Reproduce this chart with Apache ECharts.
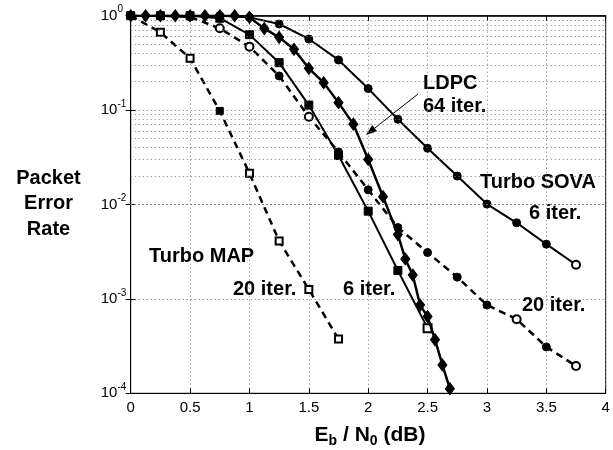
<!DOCTYPE html>
<html><head><meta charset="utf-8">
<script src="https://cdn.jsdelivr.net/npm/echarts@6/dist/echarts.min.js"></script>
<style>html,body{margin:0;padding:0;background:#fff}#c{width:613px;height:450px}</style>
</head><body><div id="c"></div>
<script>
// ---------- data ----------
const xRange = [0, 4];
const xStep = 0.5;
const yRange = [1e-4, 1];
const minorMultipliers = [2, 3, 4, 5, 6, 7, 8, 9];

const mapIter20X = [0, 0.25, 0.5, 0.75, 1.0, 1.25, 1.5, 1.75];
const mapIter20Y = [1.0, 0.667, 0.354, 0.098, 0.0214, 0.0041, 0.00126, 0.000376];

const mapIter6X = [0, 0.25, 0.5, 0.75, 1.0, 1.25, 1.5, 1.75, 2.0, 2.25, 2.5];
const mapIter6Y = [1.0, 1.0, 1.0, 0.94, 0.63, 0.318, 0.113, 0.033, 0.0085, 0.0020, 0.00049];

const ldpcX = [0, 0.125, 0.25, 0.375, 0.5, 0.625, 0.75, 0.875, 1.0, 1.125, 1.25, 1.375, 1.5, 1.625, 1.75, 1.875, 2.0, 2.125, 2.25, 2.3125, 2.375, 2.4375, 2.5, 2.5625, 2.625, 2.6875];
const ldpcY = [1.0, 1.0, 1.0, 1.0, 1.0, 1.0, 1.0, 1.0, 0.96, 0.73, 0.59, 0.44, 0.277, 0.195, 0.12, 0.071, 0.030, 0.0121, 0.0048, 0.00265, 0.00179, 0.00086, 0.00065, 0.00037, 0.0002, 0.000112];

const sova6X = [0, 0.25, 0.5, 0.75, 1.0, 1.25, 1.5, 1.75, 2.0, 2.25, 2.5, 2.75, 3.0, 3.25, 3.5, 3.75];
const sova6Y = [1.0, 1.0, 1.0, 1.0, 0.96, 0.817, 0.567, 0.34, 0.169, 0.080, 0.0394, 0.020, 0.0101, 0.0064, 0.0038, 0.0023];

const sova20X = [0, 0.25, 0.5, 0.75, 1.0, 1.25, 1.5, 1.75, 2.0, 2.25, 2.5, 2.75, 3.0, 3.25, 3.5, 3.75];
const sova20Y = [1.0, 1.0, 0.97, 0.735, 0.47, 0.23, 0.085, 0.036, 0.0143, 0.0057, 0.0031, 0.0017, 0.00086, 0.00061, 0.00031, 0.000195];

// which markers are drawn hollow (style only)
const hollow = {
  map20: [1, 2, 4, 5, 6, 7],
  map6: [10],
  ldpc: [],
  sova6: [15],
  sova20: [3, 4, 6, 13, 15]
};

// ---------- chart ----------
const FONT = '"Liberation Sans", Arial, Helvetica, sans-serif';
const chart = echarts.init(document.getElementById('c'), null, {renderer: 'canvas'});

function mk(name, xs, ys, shape, open, size, width, dash, z) {
  const Cap = shape.charAt(0).toUpperCase() + shape.slice(1);
  return {
    name: name, type: 'line', z: z,
    data: xs.map((x, i) => [x, ys[i]]),
    symbol: (v, p) => open.indexOf(p.dataIndex) >= 0 ? 'empty' + Cap : shape,
    symbolSize: size,
    showAllSymbol: true,
    lineStyle: {color: '#000', width: width, type: dash},
    itemStyle: {color: '#000', borderColor: '#000', borderWidth: 1},
    emphasis: {disabled: true},
    animation: false,
    silent: true
  };
}

const minorLines = [];
for (let e = -4; e < 0; e++) {
  minorMultipliers.forEach(m => minorLines.push({yAxis: m * Math.pow(10, e)}));
}

const series = [
  mk('Turbo MAP 20 iter.', mapIter20X, mapIter20Y, 'rect', hollow.map20, 7, 2.5, [7, 5], 3),
  mk('Turbo MAP 6 iter.', mapIter6X, mapIter6Y, 'rect', hollow.map6, 8, 2, 'solid', 4),
  mk('Turbo SOVA 20 iter.', sova20X, sova20Y, 'circle', hollow.sova20, 8, 2.5, [7, 5], 3),
  mk('Turbo SOVA 6 iter.', sova6X, sova6Y, 'circle', hollow.sova6, 8, 2, 'solid', 4),
  mk('LDPC 64 iter.', ldpcX, ldpcY, 'diamond', hollow.ldpc, [9, 12], 2.5, 'solid', 5)
];
series[0].markLine = {
  silent: true, symbol: ['none', 'none'], animation: false,
  label: {show: false},
  lineStyle: {color: '#777', type: [1, 3], width: 1},
  emphasis: {disabled: true},
  data: minorLines
};

const gridSplit = {show: true, lineStyle: {color: '#777', type: [1, 3], width: 1}};
const boldText = (t, x, y, align) => ({
  type: 'text', silent: true,
  style: {text: t, x: x, y: y, fill: '#000', font: 'bold 20px ' + FONT,
          align: align || 'left', textAlign: align || 'left',
          verticalAlign: 'middle', textVerticalAlign: 'middle'}
});

// arrow geometry for "LDPC 64 iter." pointer
const arrowFrom = [418, 94], arrowTip = [366, 135];
const dx = arrowTip[0] - arrowFrom[0], dy = arrowTip[1] - arrowFrom[1];
const len = Math.sqrt(dx * dx + dy * dy), ux = dx / len, uy = dy / len;
const headL = 11, headW = 4;
const base = [arrowTip[0] - ux * headL, arrowTip[1] - uy * headL];

const option = {
  backgroundColor: '#fff',
  animation: false,
  grid: {left: 130.7, right: 7.3, top: 15.7, bottom: 56.7, show: true, borderColor: '#000', borderWidth: 1},
  xAxis: [{
    type: 'value', min: xRange[0], max: xRange[1], interval: xStep,
    axisLine: {show: true, onZero: false, lineStyle: {color: '#000', width: 1}},
    axisTick: {show: true, inside: true, length: 5, lineStyle: {color: '#000'}},
    axisLabel: {color: '#000', fontSize: 15, fontFamily: FONT, margin: 7},
    splitLine: gridSplit
  }, {
    type: 'value', position: 'top', min: xRange[0], max: xRange[1], interval: xStep,
    axisLine: {show: true, lineStyle: {color: '#000', width: 1.5}},
    axisTick: {show: true, inside: true, length: 5, lineStyle: {color: '#000'}},
    axisLabel: {show: false}, splitLine: {show: false}
  }],
  yAxis: [{
    type: 'log', logBase: 10, min: yRange[0], max: yRange[1],
    axisLine: {show: true, onZero: false, lineStyle: {color: '#000', width: 1}},
    axisTick: {show: true, inside: true, length: 5, lineStyle: {color: '#000'}},
    axisLabel: {
      color: '#000', fontFamily: FONT, margin: 30, align: 'left',
      formatter: v => '{b|10}{s|' + Math.round(Math.log10(v)) + '}',
      rich: {
        b: {fontSize: 15, fontFamily: FONT, color: '#000', lineHeight: 22, verticalAlign: 'middle'},
        s: {fontSize: 10, fontFamily: FONT, color: '#000', lineHeight: 10, verticalAlign: 'top'}
      }
    },
    splitLine: gridSplit
  }, {
    type: 'log', logBase: 10, min: yRange[0], max: yRange[1], position: 'right',
    axisLine: {show: true, lineStyle: {color: '#000', width: 1}},
    axisTick: {show: true, inside: true, length: 5, lineStyle: {color: '#000'}},
    axisLabel: {show: false}, splitLine: {show: false}
  }],
  series: series,
  graphic: [
    boldText('LDPC', 423, 83),
    boldText('64 iter.', 423, 106),
    boldText('Turbo SOVA', 480, 182),
    boldText('6 iter.', 529, 213),
    boldText('20 iter.', 522, 305),
    boldText('6 iter.', 343, 289),
    boldText('Turbo MAP', 149, 256),
    boldText('20 iter.', 233, 289),
    boldText('Packet', 48.5, 178, 'center'),
    boldText('Error', 48.5, 203.5, 'center'),
    boldText('Rate', 48.5, 229, 'center'),
    {
      type: 'text', silent: true,
      style: {
        text: '{b|E}{s|b}{b| / N}{s|0}{b| (dB)}',
        x: 370, y: 435, align: 'center', textAlign: 'center',
        verticalAlign: 'middle', textVerticalAlign: 'middle',
        rich: {
          b: {font: 'bold 21px ' + FONT, fill: '#000', color: '#000', lineHeight: 26, verticalAlign: 'middle'},
          s: {font: 'bold 14px ' + FONT, fill: '#000', color: '#000', lineHeight: 14, verticalAlign: 'bottom'}
        }
      }
    },
    {
      type: 'line', silent: true,
      shape: {x1: arrowFrom[0], y1: arrowFrom[1], x2: base[0], y2: base[1]},
      style: {stroke: '#000', lineWidth: 1}
    },
    {
      type: 'polygon', silent: true,
      shape: {points: [arrowTip,
        [base[0] - uy * headW, base[1] + ux * headW],
        [base[0] + uy * headW, base[1] - ux * headW]]},
      style: {fill: '#000'}
    }
  ]
};
chart.setOption(option);
</script>
</body></html>
